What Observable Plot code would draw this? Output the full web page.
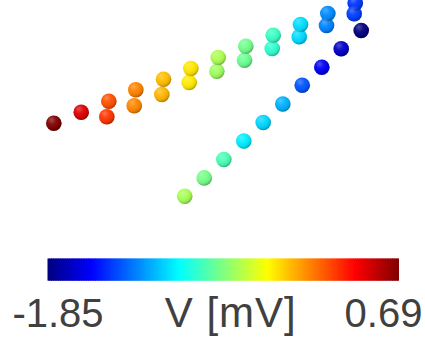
<!DOCTYPE html>
<html>
<head>
<meta charset="utf-8">
<script src="https://cdn.jsdelivr.net/npm/d3@7"></script>
<script src="https://cdn.jsdelivr.net/npm/@observablehq/plot@0.6"></script>
<style>
  html, body { margin: 0; padding: 0; background: #fff; }
  #chart { width: 425px; }
  #chart svg { display: block; }
</style>
</head>
<body>
<div id="chart"></div>
<script>
// Electrode contacts, projected into view space (px), with recorded potential (mV).
// Shaft A, upper row of contacts
const shaftAX = [53.3, 80.7, 108.3, 135.3, 163.0, 190.3, 217.7, 245.3, 272.7, 300.0, 327.3, 354.7];
const shaftAY = [122.7, 111.7, 100.7, 89.3, 78.7, 68.0, 57.0, 45.7, 34.7, 24.0, 13.0, 2.7];
const shaftAV = [0.69, 0.46, 0.17, 0.05, -0.10, -0.20, -0.47, -0.61, -0.75, -0.98, -1.19, -1.40];
// Shaft A, lower row of contacts
const shaftBX = [106.3, 133.7, 161.3, 188.7, 216.3, 244.0, 271.7, 298.7, 326.0, 353.7];
const shaftBY = [116.3, 105.3, 94.0, 82.0, 70.7, 59.7, 48.0, 36.3, 25.0, 13.3];
const shaftBV = [0.24, 0.04, -0.08, -0.21, -0.50, -0.63, -0.78, -0.99, -1.21, -1.38];
// Shaft C
const shaftCX = [360.7, 340.7, 321.3, 301.7, 282.3, 262.7, 243.3, 223.3, 203.7, 184.2];
const shaftCY = [30.0, 48.2, 66.7, 84.7, 103.5, 122.0, 140.5, 159.0, 177.4, 195.8];
const shaftCV = [-1.85, -1.67, -1.57, -1.32, -1.09, -1.00, -0.94, -0.71, -0.60, -0.48];

// Colour bar
const vMin = -1.85;
const vMax = 0.69;
const barLabel = "V [mV]";

const contacts = [
  ...shaftAX.map((x, i) => ({x, y: shaftAY[i], v: shaftAV[i]})),
  ...shaftBX.map((x, i) => ({x, y: shaftBY[i], v: shaftBV[i]})),
  ...shaftCX.map((x, i) => ({x, y: shaftCY[i], v: shaftCV[i]}))
];

// Classic "jet" colormap
function jet(t) {
  const c = (u) => Math.max(0, Math.min(1, u));
  const r = c(1.5 - Math.abs(4 * t - 3));
  const g = c(1.5 - Math.abs(4 * t - 2));
  const b = c(1.5 - Math.abs(4 * t - 1));
  return d3.rgb(r * 255, g * 255, b * 255).formatHex();
}
const colorScale = {type: "linear", domain: [vMin, vMax], interpolate: () => jet};

const W = 425;
const sceneH = 240;
const barH = 99;
const textColor = "#404040";
const font = "'Liberation Sans', Arial, Helvetica, sans-serif";

// 3D scene (projected)
const scene = Plot.plot({
  width: W,
  height: sceneH,
  margin: 0,
  style: {background: "#fff", overflow: "visible"},
  x: {domain: [0, W], range: [0, W], axis: null},
  y: {domain: [0, sceneH], range: [0, sceneH], axis: null},
  color: colorScale,
  marks: [
    Plot.dot(contacts, {x: "x", y: "y", r: 7.8, fill: "v", stroke: "none"}),
    Plot.dot(contacts, {x: "x", y: "y", r: 7.8, fill: "url(#sphere-shade)", stroke: "none"})
  ]
});

// Sphere shading overlay
const defs = d3.select(scene).insert("defs", ":first-child");
const grad = defs.append("radialGradient")
  .attr("id", "sphere-shade")
  .attr("cx", "40%").attr("cy", "35%").attr("r", "65%")
  .attr("fx", "35%").attr("fy", "28%");
grad.append("stop").attr("offset", "0%").attr("stop-color", "#fff").attr("stop-opacity", 0.3);
grad.append("stop").attr("offset", "45%").attr("stop-color", "#fff").attr("stop-opacity", 0.05);
grad.append("stop").attr("offset", "80%").attr("stop-color", "#000").attr("stop-opacity", 0.08);
grad.append("stop").attr("offset", "100%").attr("stop-color", "#000").attr("stop-opacity", 0.3);

// Colour bar samples across the scale domain
const nSamples = 200;
const step = (vMax - vMin) / nSamples;
const samples = d3.range(nSamples).map((i) => ({x1: vMin + i * step, x2: vMin + (i + 1) * step + step * 0.6, v: vMin + (i + 0.5) * step}));

const bar = Plot.plot({
  width: W,
  height: barH,
  marginLeft: 47.5,
  marginRight: 26,
  marginTop: 18.5,
  marginBottom: 58.3,
  style: {background: "#fff", overflow: "visible", fontFamily: font},
  x: {domain: [vMin, vMax], axis: null},
  y: {domain: [0, 1], axis: null},
  color: colorScale,
  marks: [
    Plot.rect(samples, {x1: "x1", x2: (d) => Math.min(d.x2, vMax), y1: 0, y2: 1, fill: "v"}),
    Plot.text([vMin], {x: (d) => d, text: (d) => d.toFixed(2), frameAnchor: "bottom", lineAnchor: "bottom", dy: 45.8, dx: 10, fontSize: 40, fill: textColor, textAnchor: "middle"}),
    Plot.text([vMax], {x: (d) => d, text: (d) => d.toFixed(2), frameAnchor: "bottom", lineAnchor: "bottom", dy: 45.8, dx: -16, fontSize: 40, fill: textColor, textAnchor: "middle"}),
    Plot.text([barLabel], {x: (vMin + vMax) / 2, text: (d) => d, frameAnchor: "bottom", lineAnchor: "bottom", dy: 45.8, dx: 7, fontSize: 42, fill: textColor, textAnchor: "middle", className: "bar-label"})
  ]
});
d3.select(bar).selectAll(".bar-label text").style("letter-spacing", "1px");

const chart = document.getElementById("chart");
chart.appendChild(scene);
chart.appendChild(bar);
</script>
</body>
</html>
